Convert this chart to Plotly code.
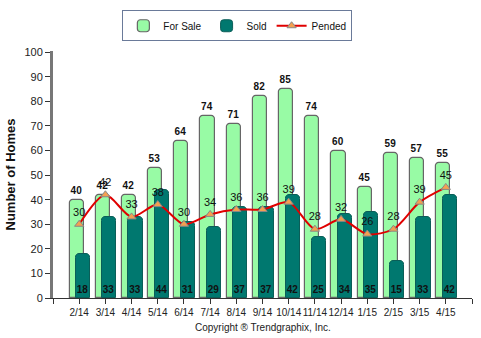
import plotly.graph_objects as go

months = ["2/14", "3/14", "4/14", "5/14", "6/14", "7/14", "8/14", "9/14",
          "10/14", "11/14", "12/14", "1/15", "2/15", "3/15", "4/15"]
for_sale = [40, 42, 42, 53, 64, 74, 71, 82, 85, 74, 60, 45, 59, 57, 55]
sold = [18, 33, 33, 44, 31, 29, 37, 37, 42, 25, 34, 35, 15, 33, 42]
pended = [30, 42, 33, 38, 30, 34, 36, 36, 39, 28, 32, 26, 28, 39, 45]

idx = list(range(len(months)))
FONT = "Liberation Sans"

fig = go.Figure()
fig.add_trace(go.Bar(
    name="For Sale", x=[i - 0.1 for i in idx], y=for_sale, width=0.54,
    marker=dict(color="#98FBA5", line=dict(color="#666666", width=1.2), cornerradius=4),
    text=[str(v) for v in for_sale], textposition="outside",
    textfont=dict(family=FONT, size=10, color="#111111", weight="bold"),
    cliponaxis=False,
))
fig.add_trace(go.Bar(
    name="Sold", x=[i + 0.15 for i in idx], y=sold, width=0.54,
    marker=dict(color="#00786F", line=dict(color="#0B5E58", width=1), cornerradius=4),
    text=[str(v) for v in sold], textposition="inside", insidetextanchor="start",
    textangle=0,
    textfont=dict(family=FONT, size=10, color="#111111", weight="bold"),
    constraintext="none",
))
fig.add_trace(go.Scatter(
    name="Pended", x=idx, y=pended, mode="lines+markers+text",
    line=dict(color="#E00000", width=2, shape="spline", smoothing=0.8),
    marker=dict(symbol="triangle-up", size=8, color="#F4A050",
                line=dict(color="#888888", width=1)),
    text=[str(v) for v in pended], textposition="top center",
    textfont=dict(family=FONT, size=11, color="#111111"),
    cliponaxis=False,
))

fig.update_layout(
    width=481, height=338,
    margin=dict(l=44, r=9, t=51, b=40),
    paper_bgcolor="white", plot_bgcolor="white",
    barmode="overlay", bargap=0,
    uniformtext=dict(minsize=10, mode="show"),
    showlegend=True,
    legend=dict(orientation="h", x=0.44, xanchor="center", y=1.165, yanchor="top",
                bordercolor="#6A7A99", borderwidth=1, bgcolor="white",
                font=dict(family=FONT, size=10, color="#111111"),
                itemwidth=30, tracegroupgap=0),
    font=dict(family=FONT, size=10, color="#222222"),
    annotations=[dict(text="Copyright ® Trendgraphix, Inc.", xref="paper", yref="paper",
                      x=0.5, y=-0.12, xanchor="center", yanchor="middle", showarrow=False,
                      font=dict(family=FONT, size=10, color="#222222"))],
)
fig.update_xaxes(
    range=[-1, 15], tickmode="array", tickvals=list(range(-1, 16)),
    ticktext=[""] + months + [""], ticks="outside", ticklen=5, tickcolor="#333333",
    tickangle=0,
    showline=True, linecolor="#333333", linewidth=1, showgrid=False, zeroline=False,
    tickfont=dict(family=FONT, size=10, color="#222222"),
)
fig.update_yaxes(
    range=[0, 100.5], tickvals=list(range(0, 101, 10)), ticks="outside", ticklen=5,
    tickcolor="#333333", showline=True, linecolor="#777777", linewidth=3,
    showgrid=False, zeroline=False,
    tickfont=dict(family=FONT, size=11, color="#222222"),
    title=dict(text="<b>Number of Homes</b>", font=dict(family=FONT, size=13, color="#111111"),
               standoff=6),
)

fig.write_html("out.html")
